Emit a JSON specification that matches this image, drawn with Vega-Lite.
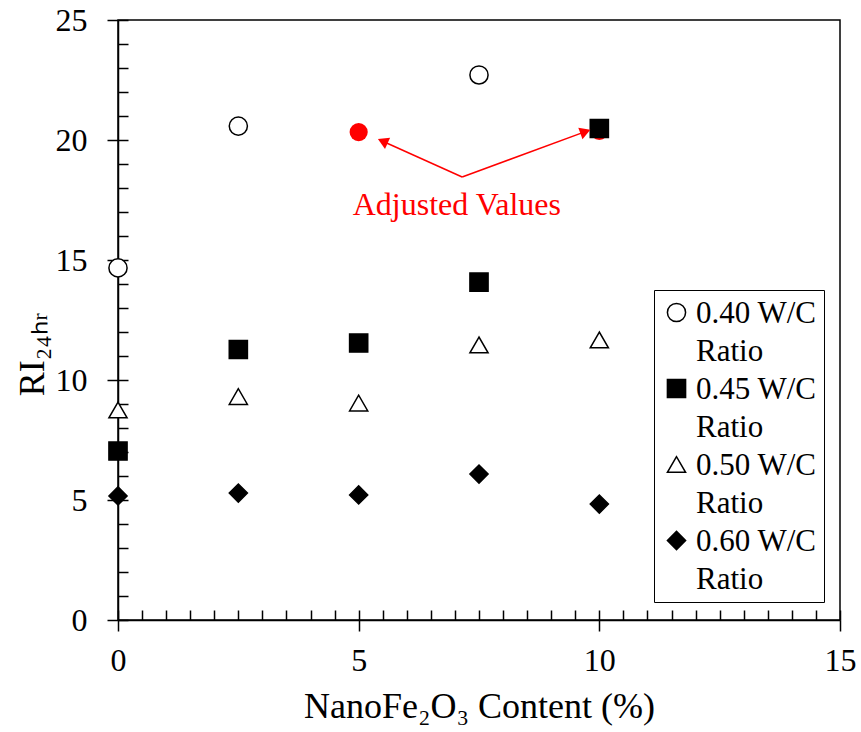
{
  "$schema": "https://vega.github.io/schema/vega-lite/v6.json",
  "width": 722,
  "height": 600,
  "autosize": "none",
  "padding": {"left": 118, "top": 20, "right": 21, "bottom": 112},
  "background": "white",
  "config": {
    "font": "Liberation Serif",
    "style": {"guide-label": {"font": "Liberation Serif", "lineHeight": 38, "dy": -14}, "guide-title": {"font": "Liberation Serif"}},
    "view": {"stroke": "black", "strokeWidth": 1.5},
    "axis": {
      "grid": false,
      "labelFont": "Liberation Serif",
      "titleFont": "Liberation Serif",
      "labelColor": "black",
      "titleColor": "black",
      "titleFontWeight": "normal",
      "domainColor": "black",
      "tickColor": "black",
      "tickWidth": 1.5,
      "domainWidth": 1.5
    },
    "legend": {"labelFont": "Liberation Serif"}
  },
  "resolve": {"axis": {"x": "independent", "y": "independent"}},
  "layer": [
    {
      "data": {"values": [
        {"content": 5, "ri": 20.33},
        {"content": 10, "ri": 20.38}
      ]},
      "mark": {"type": "point", "shape": "circle", "filled": true, "color": "#ff0000", "opacity": 1, "size": 330},
      "encoding": {
        "x": {"field": "content", "type": "quantitative", "scale": {"domain": [0, 15], "nice": false, "zero": false},
          "axis": {"orient": "top", "offset": -600, "values": [0,0.5,1,1.5,2,2.5,3,3.5,4,4.5,5,5.5,6,6.5,7,7.5,8,8.5,9,9.5,10,10.5,11,11.5,12,12.5,13,13.5,14,14.5,15], "labels": false, "domain": false, "title": null, "tickSize": 10}},
        "y": {"field": "ri", "type": "quantitative", "scale": {"domain": [0, 25], "nice": false, "zero": false},
          "axis": {"orient": "right", "offset": -722, "values": [0,1,2,3,4,5,6,7,8,9,10,11,12,13,14,15,16,17,18,19,20,21,22,23,24,25], "labels": false, "domain": false, "title": null, "tickSize": 10}}
      }
    },
    {
      "data": {"values": [
        {"content": 0, "ri": 14.67, "ratio": "0.40 W/C"},
        {"content": 2.5, "ri": 20.58, "ratio": "0.40 W/C"},
        {"content": 7.5, "ri": 22.71, "ratio": "0.40 W/C"},
        {"content": 0, "ri": 7.04, "ratio": "0.45 W/C"},
        {"content": 2.5, "ri": 11.27, "ratio": "0.45 W/C"},
        {"content": 5, "ri": 11.54, "ratio": "0.45 W/C"},
        {"content": 7.5, "ri": 14.08, "ratio": "0.45 W/C"},
        {"content": 10, "ri": 20.48, "ratio": "0.45 W/C"},
        {"content": 0, "ri": 8.75, "ratio": "0.50 W/C"},
        {"content": 2.5, "ri": 9.31, "ratio": "0.50 W/C"},
        {"content": 5, "ri": 9.04, "ratio": "0.50 W/C"},
        {"content": 7.5, "ri": 11.46, "ratio": "0.50 W/C"},
        {"content": 10, "ri": 11.67, "ratio": "0.50 W/C"},
        {"content": 0, "ri": 5.17, "ratio": "0.60 W/C"},
        {"content": 2.5, "ri": 5.29, "ratio": "0.60 W/C"},
        {"content": 5, "ri": 5.21, "ratio": "0.60 W/C"},
        {"content": 7.5, "ri": 6.08, "ratio": "0.60 W/C"},
        {"content": 10, "ri": 4.83, "ratio": "0.60 W/C"}
      ]},
      "mark": {"type": "point", "filled": true, "strokeWidth": 1.5, "size": 330, "opacity": 1},
      "encoding": {
        "x": {"field": "content", "type": "quantitative",
          "axis": {"orient": "bottom", "values": [0, 5, 10, 15], "tickSize": 11, "labelPadding": 28, "labelFont": "Liberation Serif", "labelFontSize": 32, "labelFlush": false,
            "title": "NanoFe₂O₃ Content (%)", "titleFontSize": 36, "titlePadding": 13}},
        "y": {"field": "ri", "type": "quantitative",
          "axis": {"orient": "left", "values": [0, 5, 10, 15, 20, 25], "tickSize": 11, "labelPadding": 20, "labelOffset": 14, "labelFont": "Liberation Serif", "labelFontSize": 32, "labelFlush": false,
            "title": "RI₂₄ₕᵣ", "titleFontSize": 36, "titlePadding": 4, "titleY": 334}},
        "shape": {"field": "ratio", "type": "nominal",
          "scale": {"domain": ["0.40 W/C", "0.45 W/C", "0.50 W/C", "0.60 W/C"], "range": ["circle", "square", "triangle-up", "diamond"]},
          "legend": {"orient": "none", "legendX": 536, "legendY": 270, "title": null, "strokeColor": "black", "fillColor": "white", "padding": 7,
            "labelFont": "Liberation Serif", "labelFontSize": 31, "labelColor": "black", "labelLimit": 400, "labelOffset": 4, "labelBaseline": "top",
            "symbolSize": 330, "symbolStrokeWidth": 1.5, "rowPadding": 6,
            "labelExpr": "[datum.label, 'Ratio']"}},
        "fill": {"field": "ratio", "type": "nominal",
          "scale": {"domain": ["0.40 W/C", "0.45 W/C", "0.50 W/C", "0.60 W/C"], "range": ["white", "black", "white", "black"]},
          "legend": {"orient": "none", "legendX": 536, "legendY": 270, "title": null, "strokeColor": "black", "fillColor": "white", "padding": 7,
            "labelFont": "Liberation Serif", "labelFontSize": 31, "labelColor": "black", "labelLimit": 400, "labelOffset": 4, "labelBaseline": "top",
            "symbolSize": 330, "symbolStrokeWidth": 1.5, "rowPadding": 6,
            "labelExpr": "[datum.label, 'Ratio']"}},
        "stroke": {"field": "ratio", "type": "nominal",
          "scale": {"domain": ["0.40 W/C", "0.45 W/C", "0.50 W/C", "0.60 W/C"], "range": ["black", "black", "black", "black"]},
          "legend": {"orient": "none", "legendX": 536, "legendY": 270, "title": null, "strokeColor": "black", "fillColor": "white", "padding": 7,
            "labelFont": "Liberation Serif", "labelFontSize": 31, "labelColor": "black", "labelLimit": 400, "labelOffset": 4, "labelBaseline": "top",
            "symbolSize": 330, "symbolStrokeWidth": 1.5, "rowPadding": 6,
            "labelExpr": "[datum.label, 'Ratio']"}}
      }
    },
    {
      "data": {"values": [
        {"x": 7.15, "y": 18.46, "x2": 5.5, "y2": 19.95},
        {"x": 7.15, "y": 18.46, "x2": 9.71, "y2": 20.35}
      ]},
      "mark": {"type": "rule", "color": "#ff0000", "strokeWidth": 1.5},
      "encoding": {
        "x": {"field": "x", "type": "quantitative", "axis": null},
        "y": {"field": "y", "type": "quantitative", "axis": null},
        "x2": {"field": "x2"},
        "y2": {"field": "y2"}
      }
    },
    {
      "data": {"values": [{"x": 5.5, "y": 19.95}]},
      "mark": {"type": "point", "shape": "triangle-up", "filled": true, "color": "#ff0000", "opacity": 1, "size": 150, "angle": 294.6},
      "encoding": {
        "x": {"field": "x", "type": "quantitative", "axis": null},
        "y": {"field": "y", "type": "quantitative", "axis": null}
      }
    },
    {
      "data": {"values": [{"x": 9.71, "y": 20.35}]},
      "mark": {"type": "point", "shape": "triangle-up", "filled": true, "color": "#ff0000", "opacity": 1, "size": 150, "angle": 70},
      "encoding": {
        "x": {"field": "x", "type": "quantitative", "axis": null},
        "y": {"field": "y", "type": "quantitative", "axis": null}
      }
    },
    {
      "data": {"values": [{"x": 7.04, "y": 17.29, "label": "Adjusted Values"}]},
      "mark": {"type": "text", "color": "#ff0000", "font": "Liberation Serif", "fontSize": 32, "align": "center", "baseline": "middle"},
      "encoding": {
        "x": {"field": "x", "type": "quantitative", "axis": null},
        "y": {"field": "y", "type": "quantitative", "axis": null},
        "text": {"field": "label"}
      }
    }
  ]
}
